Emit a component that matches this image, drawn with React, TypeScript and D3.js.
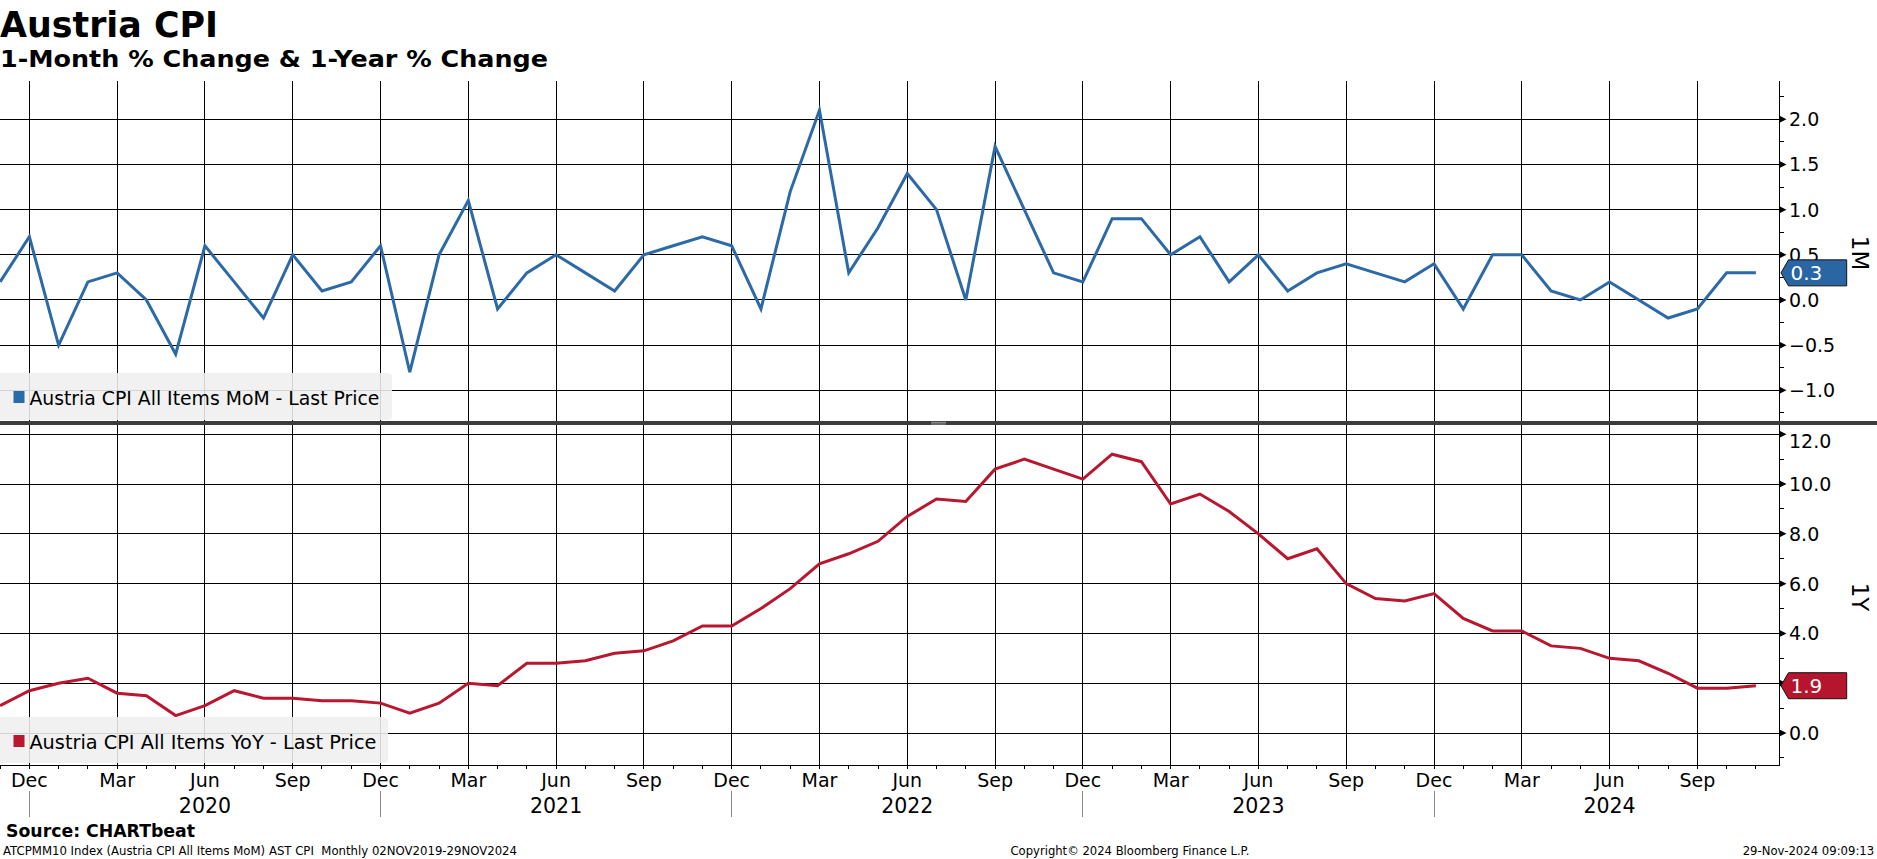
import React from 'react';
import * as d3 from 'd3';

// ---------- DATA ----------
const months: Date[] = d3.timeMonth.range(new Date(2019, 10, 1), new Date(2024, 11, 1)); // Nov 2019 .. Nov 2024

const momValues = [
  0.2, 0.7, -0.5, 0.2, 0.3, 0.0, -0.6, 0.6, 0.2, -0.2, 0.5, 0.1, 0.2,
  0.6, -0.8, 0.5, 1.1, -0.1, 0.3, 0.5, 0.3, 0.1, 0.5, 0.6, 0.7,
  0.6, -0.1, 1.2, 2.1, 0.3, 0.8, 1.4, 1.0, 0.0, 1.7, 1.0, 0.3,
  0.2, 0.9, 0.9, 0.5, 0.7, 0.2, 0.5, 0.1, 0.3, 0.4, 0.3, 0.2,
  0.4, -0.1, 0.5, 0.5, 0.1, 0.0, 0.2, 0.0, -0.2, -0.1, 0.3, 0.3,
];

const yoyValues = [
  1.1, 1.7, 2.0, 2.2, 1.6, 1.5, 0.7, 1.1, 1.7, 1.4, 1.4, 1.3, 1.3,
  1.2, 0.8, 1.2, 2.0, 1.9, 2.8, 2.8, 2.9, 3.2, 3.3, 3.7, 4.3,
  4.3, 5.0, 5.8, 6.8, 7.2, 7.7, 8.7, 9.4, 9.3, 10.6, 11.0, 10.6,
  10.2, 11.2, 10.9, 9.2, 9.6, 8.9, 8.0, 7.0, 7.4, 6.0, 5.4, 5.3,
  5.6, 4.6, 4.1, 4.1, 3.5, 3.4, 3.0, 2.9, 2.4, 1.8, 1.8, 1.9,
];

const momTicks = [-1.0, -0.5, 0.0, 0.5, 1.0, 1.5, 2.0];
const momMinorTicks = [-1.25, -0.75, -0.25, 0.25, 0.75, 1.25, 1.75, 2.25];
const yoyTicks = [0, 2, 4, 6, 8, 10, 12];
const yoyMinorTicks = [-1, 1, 3, 5, 7, 9, 11];
const monthNames = ['Jan', 'Feb', 'Mar', 'Apr', 'May', 'Jun', 'Jul', 'Aug', 'Sep', 'Oct', 'Nov', 'Dec'];

const titleText = 'Austria CPI';
const subtitleText = '1-Month % Change & 1-Year % Change';
const momLegend = 'Austria CPI All Items MoM - Last Price';
const yoyLegend = 'Austria CPI All Items YoY - Last Price';
const sourceText = 'Source: CHARTbeat';
const footerLeft = 'ATCPMM10 Index (Austria CPI All Items MoM) AST CPI  Monthly 02NOV2019-29NOV2024';
const footerMid = 'Copyright\u00A9 2024 Bloomberg Finance L.P.';
const footerRight = '29-Nov-2024 09:09:13';

// ---------- STYLE ----------
const W = 1877;
const H = 859;
const FONT = '"DejaVu Sans", Verdana, sans-serif';
const BLUE = '#2c6aa7';
const RED = '#b8172f';
const TAG_BLUE = '#2a66a4';
const TAG_RED = '#b5152d';

export default function App() {
  const axisX = 1779.5;
  const top = { y0: 81, y1: 421 };
  const bot = { y0: 425, y1: 765 };

  const x = d3.scaleLinear().domain([0, months.length - 1]).range([0.1, 1755.9]);
  const yTop = d3.scaleLinear().domain([-1, 2]).range([390.3, 119.3]);
  const yBot = d3.scaleLinear().domain([0, 12]).range([733, 434.3]);

  const lineTop = d3.line<number>().x((_, i) => x(i)).y((d) => yTop(d));
  const lineBot = d3.line<number>().x((_, i) => x(i)).y((d) => yBot(d));

  const idx = months.map((_, i) => i);
  const quarterIdx = idx.filter((i) => months[i].getMonth() % 3 === 2);
  const decIdx = idx.filter((i) => months[i].getMonth() === 11);

  const lastMom = momValues[momValues.length - 1];
  const lastYoy = yoyValues[yoyValues.length - 1];

  const tag = (vy: number) =>
    [
      [axisX + 1.5, vy],
      [axisX + 9, vy - 13],
      [1846.7, vy - 13],
      [1846.7, vy + 13],
      [axisX + 9, vy + 13],
    ]
      .map((p) => p.join(','))
      .join(' ');

  const tickTri = (vy: number) =>
    `${axisX},${vy - 3.5} ${axisX + 7},${vy} ${axisX},${vy + 3.5}`;

  return (
    <svg
      width={W}
      height={H}
      viewBox={`0 0 ${W} ${H}`}
      style={{ position: 'absolute', left: 0, top: 0, background: '#fff' }}
      fontFamily={FONT}
    >
      <rect x={0} y={0} width={W} height={H} fill="#fff" />

      {/* Titles */}
      <text x={0} y={36.5} fontSize={35} fontWeight="bold" fill="#000" textLength={218} lengthAdjust="spacingAndGlyphs">
        {titleText}
      </text>
      <text x={0} y={66.7} fontSize={23.5} fontWeight="bold" fill="#000" textLength={548} lengthAdjust="spacingAndGlyphs">
        {subtitleText}
      </text>

      {/* Horizontal gridlines */}
      <g stroke="#000" strokeWidth={1} shapeRendering="crispEdges">
        {momTicks.map((t) => (
          <line key={'hm' + t} x1={0} x2={axisX} y1={yTop(t)} y2={yTop(t)} />
        ))}
        {yoyTicks.map((t) => (
          <line key={'hy' + t} x1={0} x2={axisX} y1={yBot(t)} y2={yBot(t)} />
        ))}
        {/* Vertical quarterly gridlines */}
        {quarterIdx.map((i) => (
          <line key={'v' + i} x1={x(i)} x2={x(i)} y1={top.y0} y2={bot.y1 + 4} />
        ))}
        {/* Month ticks */}
        {idx.map((i) => (
          <line key={'mt' + i} x1={x(i)} x2={x(i)} y1={bot.y1} y2={bot.y1 + 4} />
        ))}
        {/* X axis line */}
        <line x1={0} x2={axisX} y1={bot.y1} y2={bot.y1} />
        {/* Right axis line */}
        <line x1={axisX} x2={axisX} y1={top.y0} y2={bot.y1} />
        {/* Minor ticks */}
        {momMinorTicks.map((t) => (
          <line key={'mm' + t} x1={axisX} x2={axisX + 4} y1={yTop(t)} y2={yTop(t)} />
        ))}
        {yoyMinorTicks.map((t) => (
          <line key={'ym' + t} x1={axisX} x2={axisX + 4} y1={yBot(t)} y2={yBot(t)} />
        ))}
      </g>

      {/* Major tick triangles */}
      <g fill="#000">
        {momTicks.map((t) => (
          <polygon key={'tm' + t} points={tickTri(yTop(t))} />
        ))}
        {yoyTicks.map((t) => (
          <polygon key={'ty' + t} points={tickTri(yBot(t))} />
        ))}
      </g>

      {/* Data lines */}
      <path d={lineTop(momValues) || ''} fill="none" stroke={BLUE} strokeWidth={3} strokeLinejoin="miter" />
      <path d={lineBot(yoyValues) || ''} fill="none" stroke={RED} strokeWidth={3} strokeLinejoin="miter" />

      {/* Separator between panels */}
      <rect x={0} y={421} width={W} height={4} fill="#3c3c3c" />
      <line x1={931} x2={946} y1={422.3} y2={422.3} stroke="#b0b0b0" strokeWidth={0.8} />
      <line x1={931} x2={946} y1={424} y2={424} stroke="#b0b0b0" strokeWidth={0.8} />

      {/* Right axis labels */}
      <g fontSize={19} fill="#000">
        {momTicks.map((t) => (
          <text key={'lm' + t} x={1789} y={Math.max(yTop(t), top.y0 + 16) + 7}>
            {d3.format('.1f')(t)}
          </text>
        ))}
        {yoyTicks.map((t) => (
          <text key={'ly' + t} x={1789} y={Math.max(yBot(t), bot.y0 + 16) + 7}>
            {d3.format('.1f')(t)}
          </text>
        ))}
      </g>

      {/* Panel axis titles */}
      <text
        x={1852}
        y={(top.y0 + top.y1) / 2 + 2}
        fontSize={23}
        textAnchor="middle"
        transform={`rotate(90, 1852, ${(top.y0 + top.y1) / 2 + 2})`}
        fill="#000"
      >
        1M
      </text>
      <text
        x={1852}
        y={(bot.y0 + bot.y1) / 2 + 2}
        fontSize={23}
        textAnchor="middle"
        transform={`rotate(90, 1852, ${(bot.y0 + bot.y1) / 2 + 2})`}
        fill="#000"
      >
        1Y
      </text>

      {/* Last value tags */}
      <polygon points={tag(yTop(lastMom))} fill={TAG_BLUE} stroke="#111" strokeWidth={1} />
      <text x={1790.5} y={yTop(lastMom) + 7.5} fontSize={20} fill="#fff">
        {d3.format('.1f')(lastMom)}
      </text>
      <polygon points={tag(yBot(lastYoy))} fill={TAG_RED} stroke="#111" strokeWidth={1} />
      <text x={1790.5} y={yBot(lastYoy) + 7.5} fontSize={20} fill="#fff">
        {d3.format('.1f')(lastYoy)}
      </text>

      {/* Legends */}
      <rect x={-4} y={373} width={396} height={47} rx={4} fill="#efefef" fillOpacity={0.88} />
      <rect x={13.5} y={391} width={11} height={12} fill={BLUE} />
      <text x={29.4} y={405} fontSize={19} fill="#000" textLength={350} lengthAdjust="spacingAndGlyphs">
        {momLegend}
      </text>

      <rect x={-4} y={717} width={392} height={46} rx={4} fill="#efefef" fillOpacity={0.88} />
      <rect x={13.5} y={735} width={11} height={12} fill={RED} />
      <text x={29.4} y={749.3} fontSize={19} fill="#000" textLength={347} lengthAdjust="spacingAndGlyphs">
        {yoyLegend}
      </text>

      {/* X axis labels */}
      <g fontSize={19} fill="#000" textAnchor="middle">
        {quarterIdx.map((i) => (
          <text key={'ml' + i} x={x(i)} y={786.5}>
            {monthNames[months[i].getMonth()]}
          </text>
        ))}
      </g>
      <g fontSize={20.5} fill="#000" textAnchor="middle">
        {decIdx.map((i) => (
          <text key={'yl' + i} x={x(i + 6)} y={812.5}>
            {months[i].getFullYear() + 1}
          </text>
        ))}
      </g>
      <g stroke="#8a8a8a" strokeWidth={1} shapeRendering="crispEdges">
        {decIdx.map((i) => (
          <line key={'ys' + i} x1={x(i)} x2={x(i)} y1={791} y2={817} />
        ))}
      </g>

      {/* Footer */}
      <text x={6} y={837.3} fontSize={18} fontWeight="bold" fill="#000" textLength={189} lengthAdjust="spacingAndGlyphs">
        {sourceText}
      </text>
      <text x={3} y={855} fontSize={12} fill="#000" textLength={514} lengthAdjust="spacingAndGlyphs" style={{ whiteSpace: 'pre' }}>
        {footerLeft}
      </text>
      <text x={1010.5} y={855} fontSize={12} fill="#000" textLength={239} lengthAdjust="spacingAndGlyphs">
        {footerMid}
      </text>
      <text x={1742.7} y={855} fontSize={12} fill="#000" textLength={131.5} lengthAdjust="spacingAndGlyphs">
        {footerRight}
      </text>
    </svg>
  );
}
